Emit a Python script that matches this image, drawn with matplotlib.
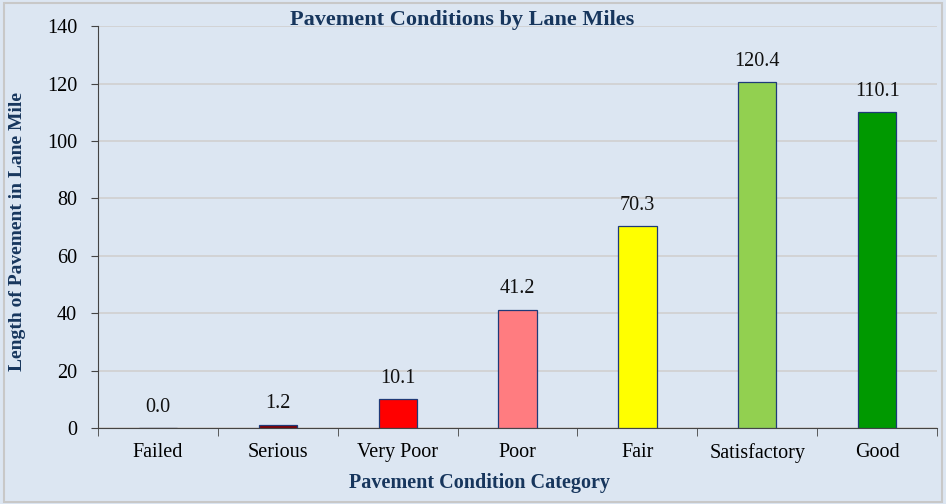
import matplotlib.pyplot as plt
import numpy as np
from matplotlib.patches import Rectangle

categories = ['Failed', 'Serious', 'Very Poor', 'Poor', 'Fair', 'Satisfactory', 'Good']
miles = [0.0, 1.2, 10.1, 41.2, 70.3, 120.4, 110.1]
bar_colors = ['#7f0000', '#800000', '#ff0000', '#ff7c80', '#ffff00', '#92d050', '#009900']

plt.rcParams['font.family'] = ['Liberation Serif', 'DejaVu Serif']
navy = '#17365d'
bg = '#dce6f2'

fig = plt.figure(figsize=(9.46, 5.04), dpi=100)
fig.patch.set_facecolor(bg)
fig.patches.append(Rectangle((0.004, 0.004), 0.992, 0.99, transform=fig.transFigure,
                             fill=False, edgecolor='#c8c8c8', linewidth=1.5))
ax = fig.add_axes([0.1036, 0.1508, 0.887, 0.7972])
ax.set_facecolor(bg)

x = np.arange(len(categories))
ax.bar(x, miles, width=0.32, color=bar_colors, edgecolor='#1f3a78', linewidth=0.9, zorder=3)
for xi, v in zip(x, miles):
    ax.text(xi, v + 4, '%.1f' % v, ha='center', va='bottom', fontsize=14.5, color='#111111')

ax.set_xlim(-0.5, len(categories) - 0.5)
ax.set_ylim(0, 140)
ax.set_yticks(np.arange(0, 141, 20))
ax.set_xticks(x)
ax.set_xticklabels(categories, fontsize=14.5)
ax.set_xticks(np.arange(-0.5, len(categories), 1), minor=True)
ax.tick_params(axis='x', which='major', length=0, pad=11)
ax.tick_params(axis='x', which='minor', length=6, color='#444444')
ax.tick_params(axis='y', labelsize=14.5, length=5, color='#444444', pad=10)
ax.yaxis.grid(True, color='#d0d0d0', linewidth=1.2, zorder=0)
ax.set_axisbelow(True)

for s in ['top', 'right']:
    ax.spines[s].set_visible(False)
for s in ['left', 'bottom']:
    ax.spines[s].set_color('#444444')

fig.text(0.488, 0.96, 'Pavement Conditions by Lane Miles', ha='center', va='center',
         fontsize=16, fontweight='bold', color=navy)
fig.text(0.507, 0.042, 'Pavement Condition Category', ha='center', va='center',
         fontsize=14.5, fontweight='bold', color=navy)
fig.text(0.019, 0.54, 'Length of Pavement in Lane Mile', ha='center', va='center',
         rotation=90, fontsize=14, fontweight='bold', color=navy)

fig.savefig('out.png', dpi=100, facecolor=bg)
